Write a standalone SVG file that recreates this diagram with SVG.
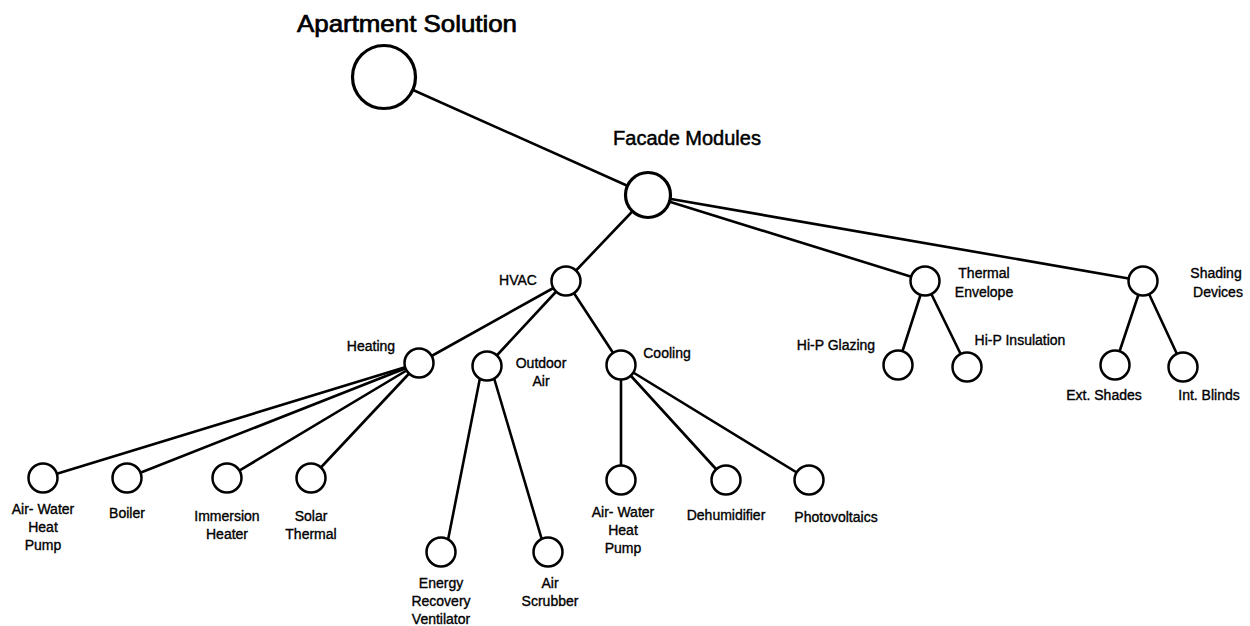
<svg xmlns="http://www.w3.org/2000/svg" width="1250" height="626" viewBox="0 0 1250 626">
<style>
.n{fill:#fff;stroke:#000;stroke-width:2.5}
.big{stroke-width:3.2}
.c line{stroke:#000;stroke-width:2.6;stroke-linecap:round}
text{font-family:"Liberation Sans",Arial,sans-serif;font-size:14px;fill:#000;text-anchor:middle;stroke:#000;stroke-width:0.35}
text.t1{font-size:24px;stroke-width:0.7}
text.t2{font-size:20px;stroke-width:0.5}
</style>
<rect width="1250" height="626" fill="#fff"/>
<g id="connectors" class="c">
<line x1="384" y1="77" x2="648" y2="195"/>
<line x1="648" y1="195" x2="566" y2="281"/>
<line x1="648" y1="195" x2="925" y2="281"/>
<line x1="648" y1="195" x2="1143" y2="281"/>
<line x1="566" y1="281" x2="419" y2="363"/>
<line x1="566" y1="281" x2="487" y2="366"/>
<line x1="566" y1="281" x2="621" y2="365"/>
<line x1="419" y1="363" x2="43" y2="478"/>
<line x1="419" y1="363" x2="127" y2="478"/>
<line x1="419" y1="363" x2="227" y2="478"/>
<line x1="419" y1="363" x2="311" y2="478"/>
<line x1="480" y1="378" x2="448" y2="540"/>
<line x1="494" y1="378" x2="542" y2="540"/>
<line x1="621" y1="365" x2="621" y2="480"/>
<line x1="621" y1="365" x2="726" y2="480"/>
<line x1="621" y1="365" x2="809" y2="480"/>
<line x1="925" y1="281" x2="898" y2="365"/>
<line x1="925" y1="281" x2="967" y2="367"/>
<line x1="1143" y1="281" x2="1115" y2="365"/>
<line x1="1143" y1="281" x2="1183" y2="367"/>
</g>
<g id="apartment"><circle class="n big" cx="384" cy="77" r="31.5"/><text class="t1" x="407" y="32" textLength="220" lengthAdjust="spacingAndGlyphs">Apartment Solution</text></g>
<g id="facade"><circle class="n big" cx="648" cy="195" r="22.5"/><text class="t2" x="687" y="145">Facade Modules</text></g>
<g id="hvac"><circle class="n" cx="566" cy="281" r="14.5"/><text x="518" y="285">HVAC</text></g>
<g id="heating"><circle class="n" cx="419" cy="363" r="14.5"/><text x="371" y="351">Heating</text></g>
<g id="outdoor-air"><circle class="n" cx="487" cy="366" r="14.5"/><text x="541" y="368">Outdoor</text><text x="541" y="386">Air</text></g>
<g id="cooling"><circle class="n" cx="621" cy="365" r="14.5"/><text x="667" y="358">Cooling</text></g>
<g id="thermal-envelope"><circle class="n" cx="925" cy="281" r="14.5"/><text x="984" y="278">Thermal</text><text x="984" y="297">Envelope</text></g>
<g id="shading-devices"><circle class="n" cx="1143" cy="281" r="14.5"/><text x="1216" y="278">Shading</text><text x="1218" y="297">Devices</text></g>
<g id="hip-glazing"><circle class="n" cx="898" cy="365" r="14.5"/><text x="836" y="350">Hi-P Glazing</text></g>
<g id="hip-insulation"><circle class="n" cx="967" cy="367" r="14.5"/><text x="1020" y="345">Hi-P Insulation</text></g>
<g id="ext-shades"><circle class="n" cx="1115" cy="365" r="14.5"/><text x="1104" y="400">Ext. Shades</text></g>
<g id="int-blinds"><circle class="n" cx="1183" cy="367" r="14.5"/><text x="1209" y="400">Int. Blinds</text></g>
<g id="heat-awhp"><circle class="n" cx="43" cy="478" r="14.5"/><text x="43" y="514">Air- Water</text><text x="43" y="532">Heat</text><text x="43" y="550">Pump</text></g>
<g id="boiler"><circle class="n" cx="127" cy="478" r="14.5"/><text x="127" y="518">Boiler</text></g>
<g id="immersion-heater"><circle class="n" cx="227" cy="478" r="14.5"/><text x="227" y="521">Immersion</text><text x="227" y="539">Heater</text></g>
<g id="solar-thermal"><circle class="n" cx="311" cy="478" r="14.5"/><text x="311" y="521">Solar</text><text x="311" y="539">Thermal</text></g>
<g id="erv"><circle class="n" cx="441" cy="552" r="14.5"/><text x="441" y="588">Energy</text><text x="441" y="606">Recovery</text><text x="441" y="624">Ventilator</text></g>
<g id="air-scrubber"><circle class="n" cx="548" cy="552" r="14.5"/><text x="550" y="588">Air</text><text x="550" y="606">Scrubber</text></g>
<g id="cool-awhp"><circle class="n" cx="621" cy="480" r="14.5"/><text x="623" y="517">Air- Water</text><text x="623" y="535">Heat</text><text x="623" y="553">Pump</text></g>
<g id="dehumidifier"><circle class="n" cx="726" cy="480" r="14.5"/><text x="726" y="520">Dehumidifier</text></g>
<g id="photovoltaics"><circle class="n" cx="809" cy="480" r="14.5"/><text x="836" y="522">Photovoltaics</text></g>
</svg>
